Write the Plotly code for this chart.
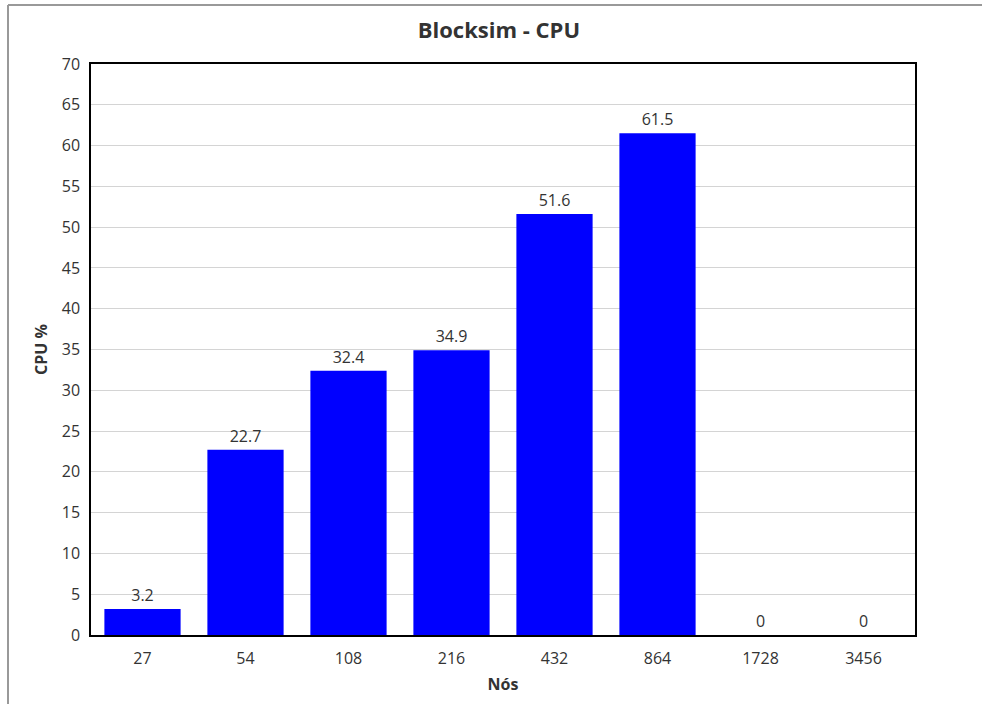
import plotly.graph_objects as go

# CPU usage per network size
nodes = ["27", "54", "108", "216", "432", "864", "1728", "3456"]
cpu_pct = [3.2, 22.7, 32.4, 34.9, 51.6, 61.5, 0, 0]
cpu_labels = ["3.2", "22.7", "32.4", "34.9", "51.6", "61.5", "0", "0"]

y_ticks = list(range(0, 71, 5))

FONT = "Open Sans, Segoe UI, sans-serif"

fig = go.Figure(
    go.Bar(
        x=nodes,
        y=cpu_pct,
        text=cpu_labels,
        textposition="outside",
        textfont=dict(family=FONT, size=16, color="#333333"),
        marker=dict(color="#0000ff", line=dict(width=0)),
        cliponaxis=False,
        hoverinfo="x+y",
    )
)

fig.update_layout(
    width=982,
    height=704,
    margin=dict(l=91, r=67, t=64, b=69),
    paper_bgcolor="white",
    plot_bgcolor="white",
    bargap=0.26,
    showlegend=False,
    font=dict(family=FONT, size=15, color="#333333"),
    title=dict(
        text="<b>Blocksim - CPU</b>",
        xref="paper",
        x=0.495,
        xanchor="center",
        y=1 - 30 / 704,
        yanchor="middle",
        font=dict(family=FONT, size=22, color="#333333"),
    ),
    xaxis=dict(
        title=dict(text="<b>Nós</b>", font=dict(size=16, color="#333333"), standoff=11),
        type="category",
        showline=True,
        linecolor="black",
        linewidth=1.5,
        mirror=True,
        ticks="outside",
        ticklen=8,
        tickcolor="rgba(0,0,0,0)",
        tickfont=dict(size=16, color="#333333"),
        showgrid=False,
    ),
    yaxis=dict(
        title=dict(text="<b>CPU %</b>", font=dict(size=16, color="#333333"), standoff=10),
        range=[0, 70],
        tickvals=y_ticks,
        showline=True,
        linecolor="black",
        linewidth=1.5,
        mirror=True,
        ticks="outside",
        ticklen=6,
        tickcolor="rgba(0,0,0,0)",
        tickfont=dict(size=16, color="#333333"),
        showgrid=True,
        gridcolor="#d4d4d4",
        gridwidth=1,
        zeroline=False,
    ),
    shapes=[
        # outer frame (top and left edges)
        dict(type="line", xref="paper", yref="paper",
             x0=-83 / 824, x1=1.2, y0=1 + 59 / 571, y1=1 + 59 / 571,
             line=dict(color="#999999", width=2)),
        dict(type="line", xref="paper", yref="paper",
             x0=-83 / 824, x1=-83 / 824, y0=1 + 59 / 571, y1=-0.2,
             line=dict(color="#999999", width=2)),
    ],
)

fig.write_html("out.html")
